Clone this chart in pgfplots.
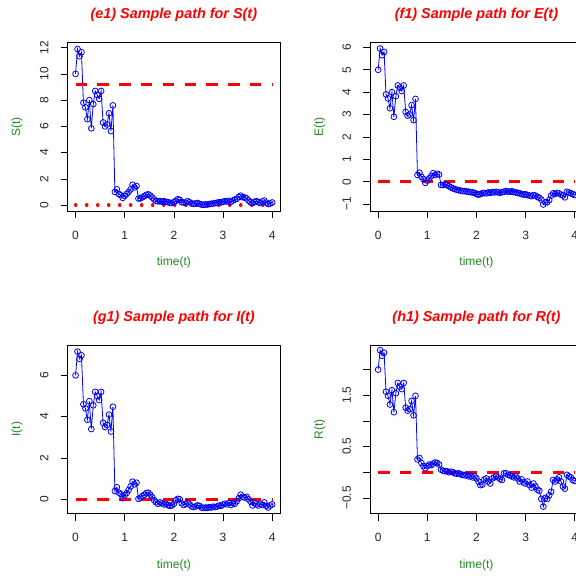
\documentclass[border=0pt]{standalone}
\usepackage{pgfplots}
\pgfplotsset{compat=1.18}
\usepackage{pgfplotstable}
\usepackage{fontspec}
\setmainfont{Liberation Sans}
\definecolor{labgreen}{RGB}{34,139,34}

\pgfplotstableread{
t S E I R
0.00 10.00 5.00 6.00 2.00
0.04 11.90 5.95 7.15 2.38
0.08 11.35 5.65 6.80 2.27
0.12 11.65 5.80 6.97 2.33
0.16 7.80 3.90 4.60 1.57
0.20 7.45 3.72 4.40 1.49
0.24 6.55 3.28 3.85 1.32
0.28 8.00 4.00 4.75 1.60
0.32 5.85 2.90 3.40 1.17
0.36 7.70 3.82 4.55 1.54
0.40 8.70 4.30 5.20 1.74
0.44 8.40 4.20 5.00 1.67
0.48 8.10 4.05 4.80 1.62
0.52 8.70 4.30 5.20 1.74
0.56 6.30 3.12 3.70 1.26
0.60 6.00 2.95 3.50 1.20
0.64 6.15 3.00 3.60 1.23
0.68 7.00 3.42 4.10 1.39
0.72 5.65 2.75 3.28 1.11
0.76 7.60 3.70 4.48 1.49
0.80 1.00 0.30 0.40 0.25
0.84 1.20 0.40 0.58 0.28
0.88 0.85 0.22 0.32 0.18
0.92 0.75 0.12 0.25 0.12
0.96 0.55 -0.05 0.05 0.08
1.00 0.70 0.05 0.20 0.12
1.04 0.85 0.15 0.30 0.15
1.08 1.00 0.25 0.45 0.14
1.12 1.20 0.38 0.62 0.17
1.16 1.55 0.30 0.85 0.19
1.20 1.35 0.35 0.72 0.18
1.24 1.45 0.32 0.80 0.15
1.28 0.50 -0.15 0.02 0.05
1.32 0.52 -0.15 0.08 0.03
1.36 0.60 -0.12 0.15 0.02
1.40 0.68 -0.15 0.22 0.02
1.44 0.78 -0.20 0.30 0.00
1.48 0.82 -0.25 0.32 0.01
1.52 0.72 -0.30 0.22 0.00
1.56 0.58 -0.33 0.10 -0.02
1.60 0.42 -0.36 -0.05 -0.03
1.64 0.32 -0.38 -0.15 -0.02
1.68 0.28 -0.40 -0.22 -0.04
1.72 0.30 -0.42 -0.15 -0.05
1.76 0.26 -0.42 -0.20 -0.06
1.80 0.30 -0.44 -0.25 -0.05
1.84 0.24 -0.45 -0.22 -0.08
1.88 0.22 -0.47 -0.28 -0.07
1.92 0.18 -0.48 -0.32 -0.10
1.96 0.15 -0.50 -0.30 -0.08
2.00 0.22 -0.55 -0.22 -0.12
2.04 0.32 -0.58 -0.05 -0.18
2.08 0.45 -0.55 0.02 -0.25
2.12 0.40 -0.52 0.00 -0.24
2.16 0.22 -0.50 -0.20 -0.14
2.20 0.20 -0.52 -0.28 -0.12
2.24 0.18 -0.48 -0.22 -0.18
2.28 0.30 -0.50 -0.15 -0.22
2.32 0.22 -0.46 -0.25 -0.12
2.36 0.12 -0.48 -0.35 -0.10
2.40 0.10 -0.45 -0.38 -0.08
2.44 0.12 -0.48 -0.35 -0.10
2.48 0.16 -0.50 -0.30 -0.13
2.52 0.10 -0.47 -0.32 -0.15
2.56 0.04 -0.45 -0.40 -0.02
2.60 0.02 -0.42 -0.42 -0.02
2.64 0.05 -0.44 -0.40 -0.05
2.68 0.04 -0.45 -0.42 -0.06
2.72 0.08 -0.43 -0.38 -0.08
2.76 0.10 -0.46 -0.40 -0.10
2.80 0.12 -0.48 -0.36 -0.08
2.84 0.15 -0.50 -0.38 -0.12
2.88 0.18 -0.52 -0.35 -0.18
2.92 0.22 -0.55 -0.30 -0.14
2.96 0.20 -0.58 -0.32 -0.20
3.00 0.25 -0.56 -0.25 -0.22
3.04 0.30 -0.60 -0.22 -0.18
3.08 0.28 -0.62 -0.25 -0.25
3.12 0.33 -0.65 -0.18 -0.30
3.16 0.25 -0.60 -0.28 -0.22
3.20 0.35 -0.62 -0.20 -0.28
3.24 0.42 -0.68 -0.22 -0.34
3.28 0.48 -0.72 -0.10 -0.36
3.32 0.62 -0.80 0.05 -0.52
3.36 0.72 -1.02 0.22 -0.67
3.40 0.60 -0.92 0.12 -0.50
3.44 0.58 -0.92 0.08 -0.52
3.48 0.52 -0.82 0.12 -0.45
3.52 0.35 -0.62 0.00 -0.38
3.56 0.22 -0.52 -0.12 -0.15
3.60 0.15 -0.55 -0.30 -0.18
3.64 0.25 -0.50 -0.18 -0.14
3.68 0.30 -0.52 -0.25 -0.10
3.72 0.22 -0.58 -0.30 -0.18
3.76 0.15 -0.62 -0.22 -0.28
3.80 0.28 -0.70 -0.28 -0.32
3.84 0.35 -0.45 -0.15 -0.05
3.88 0.18 -0.48 -0.32 -0.08
3.92 0.08 -0.52 -0.40 -0.10
3.96 0.12 -0.55 -0.30 -0.15
4.00 0.20 -0.60 -0.25 -0.17
}\paths

\pgfplotsset{
  rpanel/.style={
    scale only axis, width=212.3pt, height=168.3pt, anchor=south west,
    xmin=-0.16, xmax=4.16, xtick={0,1,2,3,4}, xticklabels={0,1,2,3,4},
    xtick pos=bottom, ytick pos=left,
    tick align=outside, major tick length=7.2pt,
    tick style={black, line width=0.6pt},
    axis line style={black, line width=0.9pt},
    ticklabel style={font=\fontsize{12}{14}\selectfont, text=black!85},
    xticklabel style={anchor=base, yshift=-21.1pt},
    yticklabel style={xshift=-12.2pt, rotate=90, anchor=base},
    every axis title shift=0pt,
    title style={font=\fontsize{14.4}{17}\selectfont\bfseries\itshape, text=red,
      at={(axis description cs:0.5,1.142)}, anchor=base},
    xlabel={time(t)},
    xlabel style={font=\fontsize{12}{14}\selectfont, text=labgreen,
      at={(axis description cs:0.5,-0.3256)}, anchor=base},
    ylabel style={font=\fontsize{12}{14}\selectfont, text=labgreen,
      at={(axis description cs:-0.2237,0.5)}, anchor=base},
  },
  blueline/.style={blue, line width=0.8pt, mark=o, mark size=2.9pt,
    mark options={line width=0.8pt, solid}},
  reddash/.style={red, line width=3pt, dash pattern=on 11.5pt off 10.3pt},
  reddot/.style={red, line width=3.3pt, line cap=round, dash pattern=on 0.3pt off 10.7pt},
}

\begin{document}
\begin{tikzpicture}
\useasboundingbox (0,0) rectangle (576pt,576pt);
\clip (0,0) rectangle (576pt,576pt);
\fill[white] (0,0) rectangle (576pt,576pt);

\begin{axis}[rpanel, at={(67.7pt,365pt)},
  ymin=-0.45, ymax=12.38, ytick={0,2,4,6,8,10,12}, yticklabels={0,2,4,6,8,10,12},
  title={(e1) Sample path for S(t)}, ylabel={S(t)}]
\addplot[blueline] table[x=t,y=S]{\paths};
\addplot[reddash] coordinates {(0,9.2) (4,9.2)};
\addplot[reddot] coordinates {(0,0) (4,0)};
\end{axis}

\begin{axis}[rpanel, at={(370.3pt,365pt)},
  ymin=-1.31, ymax=6.21, ytick={-1,0,1,2,3,4,5,6}, yticklabels={−1,0,1,2,3,4,5,6},
  title={(f1) Sample path for E(t)}, ylabel={E(t)}]
\addplot[blueline] table[x=t,y=E]{\paths};
\addplot[reddash] coordinates {(0,0) (4,0)};
\end{axis}

\begin{axis}[rpanel, at={(67.7pt,62.7pt)},
  ymin=-0.68, ymax=7.47, ytick={0,2,4,6}, yticklabels={0,2,4,6},
  title={(g1) Sample path for I(t)}, ylabel={I(t)}]
\addplot[blueline] table[x=t,y=I]{\paths};
\addplot[reddash] coordinates {(0,0) (4,0)};
\end{axis}

\begin{axis}[rpanel, at={(370.3pt,62.7pt)},
  ymin=-0.80, ymax=2.48, ytick={-0.5,0,0.5,1,1.5,2}, yticklabels={−0.5,,0.5,,1.5,},
  title={(h1) Sample path for R(t)}, ylabel={R(t)}]
\addplot[blueline] table[x=t,y=R]{\paths};
\addplot[reddash] coordinates {(0,0) (4,0)};
\end{axis}
\end{tikzpicture}
\end{document}
